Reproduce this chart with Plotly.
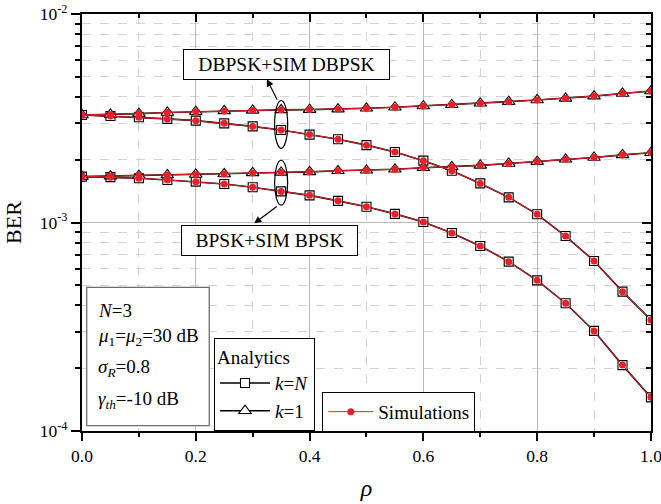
import plotly.graph_objects as go

# correlation coefficient
rho = [0.0, 0.05, 0.1, 0.15, 0.2, 0.25, 0.3, 0.35, 0.4, 0.45, 0.5,
       0.55, 0.6, 0.65, 0.7, 0.75, 0.8, 0.85, 0.9, 0.95, 1.0]

# analytical BER curves
ber_dbpsk_k1 = [3.28e-3, 3.30e-3, 3.33e-3, 3.37e-3, 3.40e-3, 3.43e-3, 3.45e-3,
                3.47e-3, 3.48e-3, 3.50e-3, 3.53e-3, 3.57e-3, 3.62e-3, 3.67e-3,
                3.73e-3, 3.80e-3, 3.87e-3, 3.94e-3, 4.04e-3, 4.16e-3, 4.27e-3]
ber_dbpsk_kN = [3.28e-3, 3.24e-3, 3.20e-3, 3.14e-3, 3.08e-3, 2.99e-3, 2.89e-3,
                2.78e-3, 2.64e-3, 2.51e-3, 2.35e-3, 2.18e-3, 1.98e-3, 1.77e-3,
                1.54e-3, 1.32e-3, 1.095e-3, 8.61e-4, 6.54e-4, 4.66e-4, 3.41e-4]
ber_bpsk_k1 = [1.66e-3, 1.67e-3, 1.68e-3, 1.69e-3, 1.70e-3, 1.71e-3, 1.73e-3,
               1.74e-3, 1.75e-3, 1.77e-3, 1.78e-3, 1.80e-3, 1.83e-3, 1.85e-3,
               1.88e-3, 1.92e-3, 1.96e-3, 2.01e-3, 2.05e-3, 2.11e-3, 2.16e-3]
ber_bpsk_kN = [1.66e-3, 1.65e-3, 1.63e-3, 1.60e-3, 1.57e-3, 1.53e-3, 1.475e-3,
               1.41e-3, 1.35e-3, 1.27e-3, 1.19e-3, 1.10e-3, 1.006e-3, 8.91e-4,
               7.72e-4, 6.49e-4, 5.28e-4, 4.10e-4, 3.02e-4, 2.07e-4, 1.45e-4]

# Monte-Carlo simulation results
sim_dbpsk_k1 = list(ber_dbpsk_k1)
sim_dbpsk_kN = list(ber_dbpsk_kN)
sim_bpsk_k1 = list(ber_bpsk_k1)
sim_bpsk_kN = list(ber_bpsk_kN)

# y-axis decade ticks
y_tickvals = [1e-4, 1e-3, 1e-2]
y_ticktext = ["10<sup>-4</sup>", "10<sup>-3</sup>", "10<sup>-2</sup>"]

FONT = "Liberation Serif"
RED = "#e8202a"

fig = go.Figure()

analytic = [
    (ber_dbpsk_kN, "square", 9, "<i>k</i>=<i>N</i>", True),
    (ber_bpsk_kN, "square", 9, "<i>k</i>=<i>N</i>", False),
    (ber_dbpsk_k1, "triangle-up", 11, "<i>k</i>=1", True),
    (ber_bpsk_k1, "triangle-up", 11, "<i>k</i>=1", False),
]
for ys, sym, sz, name, show in analytic:
    fig.add_trace(go.Scatter(
        x=rho, y=ys, mode="lines+markers", name=name, showlegend=show,
        legend="legend",
        line=dict(color="black", width=1.6),
        marker=dict(symbol=sym, size=sz, color="white",
                    line=dict(color="black", width=1.1)),
    ))

for i, ys in enumerate([sim_dbpsk_kN, sim_bpsk_kN, sim_dbpsk_k1, sim_bpsk_k1]):
    fig.add_trace(go.Scatter(
        x=rho, y=ys, mode="lines+markers", name="Simulations",
        showlegend=(i == 0), legend="legend2",
        line=dict(color=RED, width=1.0),
        marker=dict(symbol="circle", size=7, color=RED),
    ))

# invisible traces carrying the mirrored top/right axes
fig.add_trace(go.Scatter(x=rho, y=ber_bpsk_kN, xaxis="x2", yaxis="y",
                         mode="markers", marker=dict(opacity=0),
                         showlegend=False, hoverinfo="skip"))
fig.add_trace(go.Scatter(x=rho, y=ber_bpsk_kN, xaxis="x", yaxis="y2",
                         mode="markers", marker=dict(opacity=0),
                         showlegend=False, hoverinfo="skip"))

tickfont = dict(family=FONT, size=17.5, color="black")
MAJ_GRID = "#b9b9b9"
MIN_GRID = "#d2d2d2"

fig.update_layout(
    width=661, height=504,
    margin=dict(l=82, r=10, t=14, b=73),
    paper_bgcolor="white", plot_bgcolor="white",
    font=dict(family=FONT, size=19, color="black"),
    xaxis=dict(
        range=[0, 1.0001], dtick=0.2, tickformat=".1f", tickfont=tickfont,
        automargin=False, ticklabeloverflow="allow",
        ticks="outside", ticklen=8, tickwidth=1.5, tickcolor="black",
        showline=True, linewidth=2, linecolor="black", mirror=True,
        showgrid=True, gridcolor=MAJ_GRID, gridwidth=1.3,
        zeroline=False,
        minor=dict(dtick=0.1, ticks="outside", ticklen=4, tickwidth=1.5,
                   tickcolor="black", showgrid=True, gridcolor=MIN_GRID,
                   griddash="dash", gridwidth=1),
        title=dict(text="<i>ρ</i>", font=dict(family=FONT, size=24),
                   standoff=14),
    ),
    yaxis=dict(
        type="log", range=[-4, -1.9999], tickvals=y_tickvals,
        ticktext=y_ticktext, tickfont=tickfont, automargin=False,
        ticklabeloverflow="allow",
        ticks="outside", ticklen=9, tickwidth=1.5, tickcolor="black",
        showline=True, linewidth=2, linecolor="black", mirror=True,
        showgrid=True, gridcolor=MAJ_GRID, gridwidth=1.3,
        zeroline=False,
        minor=dict(dtick="D1", ticks="outside", ticklen=5, tickwidth=1.5,
                   tickcolor="black", showgrid=True, gridcolor=MIN_GRID,
                   griddash="dash", gridwidth=1),
        title=dict(text="BER", font=dict(family=FONT, size=22), standoff=12),
    ),
    xaxis2=dict(
        overlaying="x", side="top", anchor="y", range=[0, 1.0001], dtick=0.2,
        automargin=False,
        showticklabels=False, ticks="inside", ticklen=8, tickwidth=1.5,
        tickcolor="black", showgrid=False, showline=False, zeroline=False,
        minor=dict(dtick=0.1, ticks="inside", ticklen=4, tickwidth=1.5,
                   tickcolor="black", showgrid=False),
    ),
    yaxis2=dict(
        overlaying="y", side="right", anchor="x", type="log",
        range=[-4, -1.9999], dtick=1, showticklabels=False, automargin=False,
        ticks="inside", ticklen=9, tickwidth=1.5, tickcolor="black",
        showgrid=False, showline=False, zeroline=False,
        minor=dict(dtick="D1", ticks="inside", ticklen=5, tickwidth=1.5,
                   tickcolor="black", showgrid=False),
    ),
    legend=dict(
        x=0.232, y=0.222, xanchor="left", yanchor="top",
        bgcolor="white", bordercolor="black", borderwidth=1,
        title=dict(text="Analytics", font=dict(family=FONT, size=19)),
        font=dict(family=FONT, size=19), itemwidth=50,
        traceorder="normal", tracegroupgap=0,
    ),
    legend2=dict(
        x=0.4223, y=0.094, xanchor="left", yanchor="top",
        bgcolor="white", bordercolor="black", borderwidth=1,
        font=dict(family=FONT, size=19), itemwidth=45,
    ),
)

# ellipses around the rho = 0.35 points of each modulation
i35 = rho.index(0.35)
for hi, lo, pad_top, pad_bot in [
        (ber_dbpsk_k1[i35], ber_dbpsk_kN[i35], 0.045, 0.088),
        (ber_bpsk_k1[i35], ber_bpsk_kN[i35], 0.058, 0.066)]:
    fig.add_shape(type="circle", xref="x", yref="y",
                  x0=rho[i35] - 0.0115, x1=rho[i35] + 0.0115,
                  y0=lo / 10 ** pad_bot, y1=hi * 10 ** pad_top,
                  line=dict(color="black", width=1.2), fillcolor="rgba(0,0,0,0)")

# labels for the two modulation groups
fig.add_annotation(text="DBPSK+SIM DBPSK", xref="paper", yref="paper",
                   x=0.3594, y=0.879, xanchor="center", yanchor="middle",
                   showarrow=False, font=dict(family=FONT, size=19.5),
                   bgcolor="white", bordercolor="black", borderwidth=1,
                   borderpad=4, width=197)
fig.add_annotation(text="BPSK+SIM BPSK", xref="paper", yref="paper",
                   x=0.3304, y=0.4573, xanchor="center", yanchor="middle",
                   showarrow=False, font=dict(family=FONT, size=19.5),
                   bgcolor="white", bordercolor="black", borderwidth=1,
                   borderpad=4, width=167)

# arrows from the ellipses to the labels
fig.add_annotation(text="", xref="x", yref="y", x=0.325, y=-2.313,
                   ax=11, ay=22, showarrow=True, arrowhead=2, arrowsize=1.2,
                   arrowwidth=1.2, arrowcolor="black")
fig.add_annotation(text="", xref="x", yref="y", x=0.3027, y=-3.004,
                   ax=24, ay=-18, showarrow=True, arrowhead=2, arrowsize=1.2,
                   arrowwidth=1.2, arrowcolor="black")

# system parameters box
fig.add_shape(type="rect", xref="paper", yref="paper",
              x0=0.0083, x1=0.2237, y0=0.0127, y1=0.3446,
              line=dict(color="#6e6e6e", width=1.3), fillcolor="white")
params = [
    ("<i>N</i>=3", 0.290),
    ("<i>μ</i><sub>1</sub>=<i>μ</i><sub>2</sub>=30 dB", 0.2254),
    ("<i>σ</i><sub><i>R</i></sub>=0.8", 0.151),
    ("<i>γ</i><sub><i>th</i></sub>=-10 dB", 0.0743),
]
for txt, yp in params:
    fig.add_annotation(text=txt, xref="paper", yref="paper", x=0.0246, y=yp,
                       xanchor="left", yanchor="middle", showarrow=False,
                       font=dict(family=FONT, size=19))

fig.write_html("out.html")
